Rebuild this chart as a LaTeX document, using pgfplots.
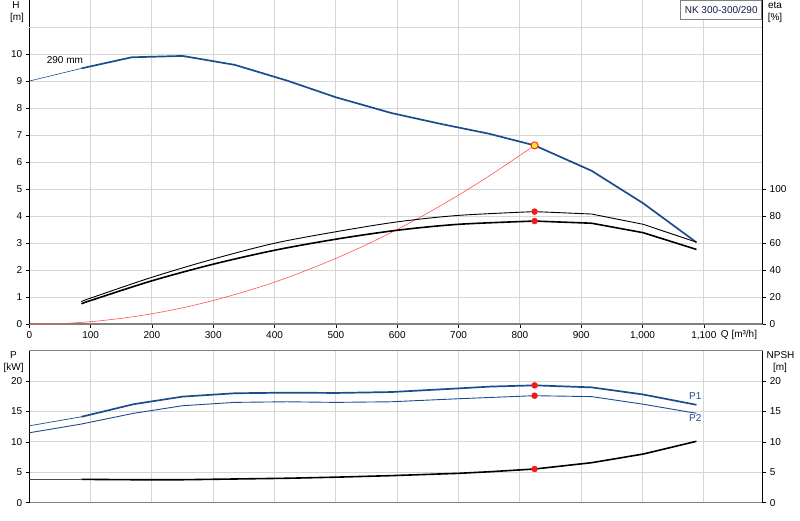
\documentclass[border=0pt]{standalone}
\usepackage{fontspec}
\setmainfont{Liberation Sans}
\usepackage{pgfplots}
\pgfplotsset{compat=1.18}
\definecolor{cblue}{RGB}{26,77,140}
\definecolor{cgrid}{RGB}{214,214,214}
\definecolor{caxis}{RGB}{128,128,128}
\definecolor{cred}{RGB}{255,80,80}
\definecolor{cdot}{RGB}{245,25,25}
\definecolor{cyel}{RGB}{255,225,40}
\definecolor{cnavy}{RGB}{20,30,70}
\pgfplotsset{
  base/.style={scale only axis, width=733.4pt, xmin=0, xmax=1196,
    tick align=outside, major tick length=3.5pt,
    tick style={black, line width=0.6pt},
    ticklabel style={font=\fontsize{10}{12}\selectfont, text=black},
    /pgf/number format/assume math mode=true,
    major grid style={cgrid, line width=1pt}},
}
\begin{document}
\begin{tikzpicture}
\useasboundingbox (0pt,0pt) rectangle (800pt,520pt);
% ---------------- top: H ----------------
\begin{axis}[base, at={(29.3pt,195.7pt)}, anchor=south west, height=324.3pt,
  ymin=0, ymax=12, ytick={0,...,10},
  extra y ticks={11,12}, extra y tick labels={},
  extra y tick style={major tick length=0pt, grid=major},
  xtick={0,100,...,1100}, grid=major,
  axis x line*=bottom, axis y line*=left,
  x axis line style={-, caxis, line width=1.8pt},
  y axis line style={-, black, line width=0.8pt}]
\addplot[cred, line width=0.6pt, smooth] coordinates {
(0,0) (50,0.024) (100,0.098) (150,0.22) (200,0.39) (250,0.61) (300,0.88)
(350,1.20) (400,1.56) (450,1.98) (500,2.44) (550,2.95) (600,3.51)
(650,4.12) (700,4.78) (750,5.49) (800,6.25) (824,6.62)};
\addplot[cblue, line width=0.6pt] coordinates {(0,9.0) (85,9.47)};
\addplot[cblue, line width=1.7pt] coordinates {
(85,9.47) (167,9.88) (250,9.93) (335,9.60) (420,9.02) (500,8.40) (590,7.82)
(670,7.42) (750,7.05) (824,6.62) (917,5.68) (1001,4.48) (1088,3.03)};
\addplot[only marks, mark=*, mark size=3.6pt, mark options={fill=cyel, draw=cdot, line width=0.8pt}]
  coordinates {(824,6.62)};
\node[font=\fontsize{10}{12}\selectfont] at (axis cs:58,9.78) {290 mm};
\end{axis}
% ---------------- top: eta ----------------
\begin{axis}[base, at={(29.3pt,195.7pt)}, anchor=south west, height=324.3pt,
  ymin=0, ymax=240, ytick={0,20,...,100},
  axis x line=none, axis y line*=right,
  y axis line style={-, black, line width=0.8pt}]
\addplot[black, line width=0.9pt, smooth] coordinates {
(85,16.8) (100,19.4) (200,34.8) (300,48.3) (400,60) (500,68.5) (600,75.8)
(700,80.6) (824,83.4)};
\addplot[black, line width=0.9pt] coordinates {(824,83.4) (917,81.6) (1001,74) (1088,60.8)};
\addplot[black, line width=1.6pt, smooth] coordinates {
(85,15.2) (100,17.6) (200,32.2) (300,44.5) (400,54.8) (500,63) (600,69.6)
(700,74) (824,76.4)};
\addplot[black, line width=1.6pt] coordinates {(824,76.4) (917,74.8) (1001,67.8) (1088,55.4)};
\addplot[only marks, mark=*, mark size=3pt, color=cdot] coordinates {(824,83.4) (824,76.4)};
\end{axis}
% ---------------- bottom: P ----------------
\begin{axis}[base, at={(29.3pt,17.3pt)}, anchor=south west, height=152pt,
  ymin=0, ymax=25, ytick={0,5,...,20},
  extra y ticks={25}, extra y tick labels={},
  extra y tick style={major tick length=0pt, grid=major},
  xtick={100,200,...,1100}, xticklabels={}, grid=major,
  axis x line*=bottom, axis y line*=left,
  x axis line style={-, caxis, line width=1.4pt},
  x tick style={draw=none},
  y axis line style={-, black, line width=0.8pt}]
\addplot[cblue, line width=0.7pt] coordinates {(0,12.65) (85,14.13)};
\addplot[cblue, line width=1.7pt] coordinates {
(85,14.13) (170,16.2) (250,17.45) (335,18.0) (420,18.1) (500,18.05) (590,18.2)
(700,18.8) (752,19.1) (824,19.3) (917,18.97) (1001,17.8) (1088,16.1)};
\addplot[cblue, line width=0.9pt] coordinates {
(0,11.5) (85,12.94) (170,14.7) (250,15.95) (335,16.5) (420,16.6) (500,16.5)
(590,16.6) (700,17.1) (824,17.6) (917,17.45) (1001,16.2) (1088,14.7)};
\addplot[black!70, line width=0.7pt] coordinates {(0,3.84) (85,3.84)};
\addplot[black, line width=1.6pt] coordinates {
(85,3.84) (170,3.78) (250,3.78) (335,3.9) (420,4.02) (500,4.2) (590,4.45)
(700,4.83) (752,5.1) (824,5.54) (917,6.58) (1001,8.0) (1088,10.1)};
\addplot[only marks, mark=*, mark size=3pt, color=cdot] coordinates {(824,19.3) (824,17.6) (824,5.54)};
\node[font=\fontsize{10}{12}\selectfont, text=cblue] at (axis cs:1086,17.55) {P1};
\node[font=\fontsize{10}{12}\selectfont, text=cblue] at (axis cs:1086,13.9) {P2};
\draw[caxis, line width=1.4pt] (rel axis cs:0,1) -- (rel axis cs:1,1);
\end{axis}
% ---------------- bottom: NPSH ----------------
\begin{axis}[base, at={(29.3pt,17.3pt)}, anchor=south west, height=152pt,
  ymin=0, ymax=25, ytick={0,5,...,20},
  axis x line=none, axis y line*=right,
  y axis line style={-, black, line width=0.8pt}]
\end{axis}
% ---------------- labels ----------------
\begin{scope}[every node/.style={font=\fontsize{10}{12}\selectfont, inner sep=0pt}]
\node at (16pt,514.5pt) {H};
\node at (17pt,502.5pt) {[m]};
\node at (775pt,514.5pt) {eta};
\node at (775pt,502.5pt) {[\%]};
\node at (13.5pt,164.5pt) {P};
\node at (13.7pt,152.5pt) {[kW]};
\node at (780.5pt,164.5pt) {NPSH};
\node at (780pt,152.5pt) {[m]};
\node at (739pt,185.5pt) {Q [m³/h]};
\node[draw=caxis, fill=white, line width=0.8pt, minimum width=81pt, minimum height=19pt, text=cnavy]
  at (721.2pt,510.5pt) {NK 300-300/290};
\end{scope}
\end{tikzpicture}
\end{document}
